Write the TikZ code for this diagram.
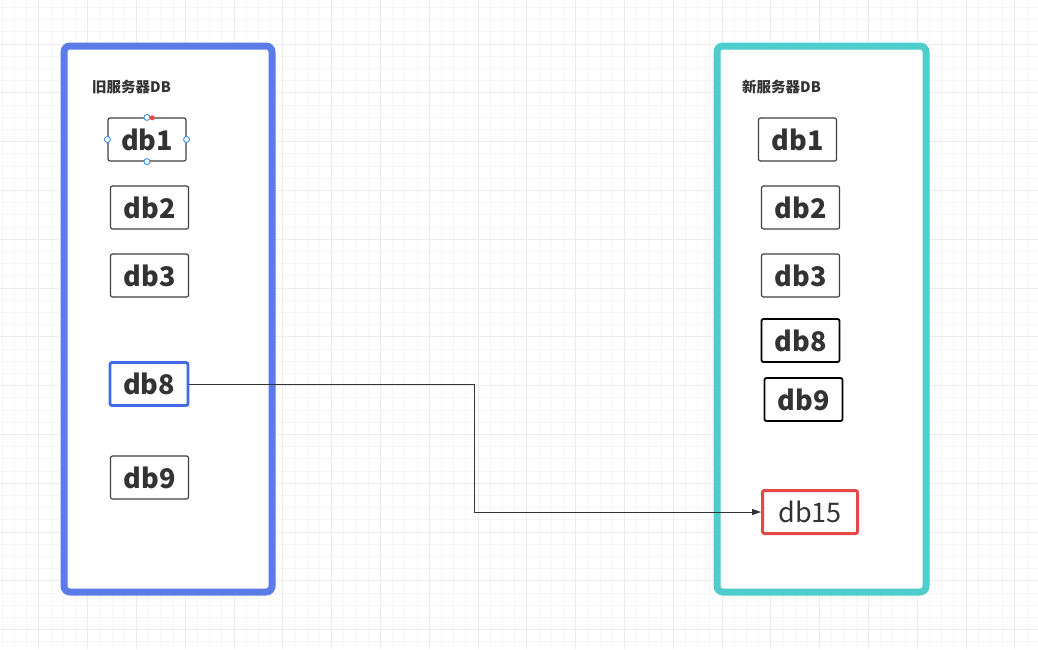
\documentclass[tikz,border=0pt]{standalone}
\usepackage{fontspec}
\setmainfont{Noto Sans CJK SC}
\usetikzlibrary{arrows.meta}
\definecolor{gridminor}{HTML}{F5F5F5}
\definecolor{gridmajor}{HTML}{EBEBEB}
\definecolor{leftblue}{HTML}{5B7BE8}
\definecolor{rightteal}{HTML}{4ECDCC}
\definecolor{nodeblue}{HTML}{4169E8}
\definecolor{nodered}{HTML}{E5474B}
\definecolor{txt}{HTML}{333333}
\definecolor{handle}{HTML}{3A8EE6}
\tikzset{
  container/.style={draw, line width=7pt, rounded corners=6pt, fill=white},
  dbbox/.style={draw=black!75, line width=1.2pt, rounded corners=2pt, fill=white,
    minimum width=78pt, minimum height=43pt, inner sep=0pt,
    font=\fontsize{27}{27}\selectfont\bfseries, text=txt},
  dbthick/.style={dbbox, draw=black, line width=1.8pt},
  title/.style={font=\fontsize{14.5}{15}\selectfont\bfseries, text=txt, anchor=west, inner sep=0pt},
  handlept/.style={circle, draw=handle, fill=white, line width=0.9pt, minimum size=6pt, inner sep=0pt},
  reddot/.style={circle, fill=nodered, minimum size=5pt, inner sep=0pt},
  link/.style={draw=black!80, line width=0.9pt, -{Triangle[length=9pt,width=6pt]}}
}
\begin{document}
\begin{tikzpicture}[x=1pt,y=-1pt]
\useasboundingbox (0,0) rectangle (1038,649);
\fill[white] (0,0) rectangle (1038,649);
% grid
\foreach \i in {0,...,85} {
  \draw[gridminor, line width=1pt] ({2.3+12.2*\i},0) -- ({2.3+12.2*\i},649);
}
\foreach \i in {0,...,53} {
  \draw[gridminor, line width=1pt] (0,{7.5+12.2*\i}) -- (1038,{7.5+12.2*\i});
}
\foreach \i in {0,...,21} {
  \draw[gridmajor, line width=1pt] ({38.9+48.8*\i},0) -- ({38.9+48.8*\i},649);
}
\foreach \i in {0,...,13} {
  \draw[gridmajor, line width=1pt] (0,{44.1+48.8*\i}) -- (1038,{44.1+48.8*\i});
}
% containers
\draw[container, draw=leftblue] (64,46) rectangle (272,592);
\draw[container, draw=rightteal] (717,46) rectangle (926,592);
\node[title] (ltitle) at (92,87) {旧服务器DB};
\node[title] (rtitle) at (742,87) {新服务器DB};
% left nodes
\node[dbbox] (L1) at (147,139.5) {db1};
\node[dbbox] (L2) at (149.5,207.5) {db2};
\node[dbbox] (L3) at (149.5,275.5) {db3};
\node[dbbox, draw=nodeblue, line width=2.8pt] (L8) at (149,384) {db8};
\node[dbbox] (L9) at (149.5,477.5) {db9};
% selection handles on L1
\node[handlept] (h1) at (L1.west) {};
\node[handlept] (h2) at (L1.east) {};
\node[handlept] (h3) at (L1.north) {};
\node[handlept] (h4) at (L1.south) {};
\node[reddot] (h5) at (152.3,117.8) {};
% right nodes
\node[dbbox] (R1) at (797.5,139.5) {db1};
\node[dbbox] (R2) at (800.5,207.5) {db2};
\node[dbbox] (R3) at (800.5,275.5) {db3};
\node[dbthick] (R8) at (800.5,340.5) {db8};
\node[dbthick] (R9) at (803.5,399.5) {db9};
\node[dbbox, draw=nodered, line width=3pt, minimum width=95pt, font=\fontsize{27}{27}\selectfont] (R15) at (810,512) {db15};
% connector
\coordinate (bend) at (474,384);
\draw[link] (L8.east) -- (bend) |- (R15.west);
\end{tikzpicture}
\end{document}
